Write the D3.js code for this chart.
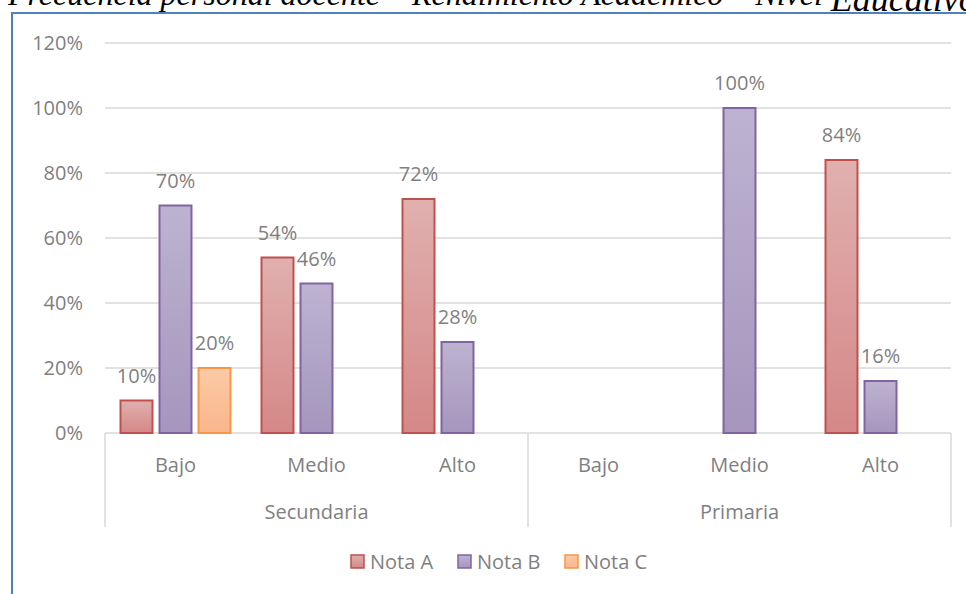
<!DOCTYPE html>
<html>
<head>
<meta charset="utf-8">
<script src="https://cdn.jsdelivr.net/npm/d3@7"></script>
<style>
  html, body { margin: 0; padding: 0; background: #fff; }
  svg { display: block; }
  text { font-family: "Open Sans", "Noto Sans", sans-serif; }
</style>
</head>
<body>
<svg id="chart" width="966" height="594"></svg>
<script>
// data
const groups = ["Secundaria", "Primaria"];
const levels = ["Bajo", "Medio", "Alto"];
const series = ["Nota A", "Nota B", "Nota C"];
// values per series, ordered Secundaria Bajo/Medio/Alto then Primaria Bajo/Medio/Alto (null = no bar)
const notaA = [0.10, 0.54, 0.72, null, null, 0.84];
const notaB = [0.70, 0.46, 0.28, null, 1.00, 0.16];
const notaC = [0.20, null, null, null, null, null];
const yTicks = [0, 0.2, 0.4, 0.6, 0.8, 1.0, 1.2];

const seriesValues = [notaA, notaB, notaC];
const colors = [
  { stroke: "#c0504d", top: "#e0b0af", bottom: "#d48887" },
  { stroke: "#8064a2", top: "#bdb3d0", bottom: "#a695bd" },
  { stroke: "#f79646", top: "#fccaa6", bottom: "#f9b68b" }
];
const fontSize = "20px";

const svg = d3.select("#chart");
const defs = svg.append("defs");
colors.forEach((c, i) => {
  const g = defs.append("linearGradient")
    .attr("id", "grad" + i).attr("x1", 0).attr("y1", 0).attr("x2", 0).attr("y2", 1);
  g.append("stop").attr("offset", "0%").attr("stop-color", c.top);
  g.append("stop").attr("offset", "100%").attr("stop-color", c.bottom);
});

// title (only its lower edge shows above the frame, as in the picture)
svg.append("text")
  .attr("x", 8).attr("y", 5)
  .style("font-family", "'Liberation Serif', 'DejaVu Serif', serif")
  .style("font-style", "italic")
  .style("font-size", "32px")
  .attr("fill", "#000")
  .text("Frecuencia personal docente * Rendimiento Académico * Nivel ")
  .append("tspan")
  .style("font-size", "36px")
  .attr("dy", 6)
  .text("Educativo");

// frame
svg.append("rect")
  .attr("x", 12).attr("y", 13)
  .attr("width", 1000).attr("height", 700)
  .attr("fill", "none")
  .attr("stroke", "#4f81bd")
  .attr("stroke-width", 2);

const plotLeft = 105, plotRight = 951, plotTop = 43, plotBottom = 433;

const y = d3.scaleLinear().domain([0, 1.2]).range([plotBottom, plotTop]);

const cats = [];
groups.forEach(g => levels.forEach(l => cats.push(g + "|" + l)));
const x0 = d3.scaleBand().domain(cats).range([plotLeft, plotRight]);
const x1 = d3.scaleBand().domain(series).range([15.5, x0.bandwidth() - 15.5]).paddingInner(0.18);

// gridlines
svg.append("g")
  .selectAll("line")
  .data(yTicks.slice(1))
  .join("line")
  .attr("x1", plotLeft).attr("x2", plotRight)
  .attr("y1", d => y(d)).attr("y2", d => y(d))
  .attr("stroke", "#d9d9d9").attr("stroke-width", 1.5);

// y axis
const yAxis = svg.append("g")
  .attr("transform", `translate(${plotLeft},0)`)
  .call(d3.axisLeft(y).tickValues(yTicks).tickFormat(d3.format(".0%")).tickSize(0).tickPadding(22));
yAxis.select(".domain").remove();
yAxis.selectAll("text")
  .attr("fill", "#7f7f7f")
  .style("font-size", fontSize)
  .style("font-family", "'Open Sans', 'Noto Sans', sans-serif");

// category axis box lines
const axisG = svg.append("g");
axisG.append("line")
  .attr("x1", plotLeft).attr("x2", plotRight).attr("y1", plotBottom).attr("y2", plotBottom)
  .attr("stroke", "#d9d9d9").attr("stroke-width", 1.5);
const dividers = [cats[0], cats[3]].map(c => x0(c)).concat([plotRight]);
axisG.selectAll("line.div")
  .data(dividers)
  .join("line")
  .attr("class", "div")
  .attr("x1", d => d).attr("x2", d => d)
  .attr("y1", plotBottom).attr("y2", 527)
  .attr("stroke", "#d9d9d9").attr("stroke-width", 1.5);

axisG.selectAll("text.lvl")
  .data(cats)
  .join("text")
  .attr("class", "lvl")
  .attr("x", d => x0(d) + x0.bandwidth() / 2)
  .attr("y", 472)
  .attr("text-anchor", "middle")
  .attr("fill", "#7f7f7f")
  .style("font-size", fontSize)
  .text(d => d.split("|")[1]);

axisG.selectAll("text.grp")
  .data(groups)
  .join("text")
  .attr("class", "grp")
  .attr("x", g => x0(g + "|" + levels[1]) + x0.bandwidth() / 2)
  .attr("y", 519)
  .attr("text-anchor", "middle")
  .attr("fill", "#7f7f7f")
  .style("font-size", fontSize)
  .text(g => g);

// bars
const barData = [];
seriesValues.forEach((vals, si) => {
  vals.forEach((v, ci) => {
    if (v !== null) barData.push({ cat: cats[ci], s: series[si], si: si, v: v });
  });
});

const barsG = svg.append("g");
barsG.selectAll("rect")
  .data(barData)
  .join("rect")
  .attr("x", d => x0(d.cat) + x1(d.s))
  .attr("y", d => y(d.v))
  .attr("width", x1.bandwidth())
  .attr("height", d => plotBottom - y(d.v))
  .attr("fill", d => `url(#grad${d.si})`)
  .attr("stroke", d => colors[d.si].stroke)
  .attr("stroke-width", 2);

barsG.selectAll("text")
  .data(barData)
  .join("text")
  .attr("x", d => x0(d.cat) + x1(d.s) + x1.bandwidth() / 2)
  .attr("y", d => y(d.v) - 18)
  .attr("text-anchor", "middle")
  .attr("fill", "#7f7f7f")
  .style("font-size", fontSize)
  .text(d => d3.format(".0%")(d.v));

// legend
const legendX = [351, 458, 565];
const legend = svg.append("g");
const item = legend.selectAll("g")
  .data(series)
  .join("g")
  .attr("transform", (d, i) => `translate(${legendX[i]},555)`);
item.append("rect")
  .attr("width", 13).attr("height", 13)
  .attr("fill", (d, i) => `url(#grad${i})`)
  .attr("stroke", (d, i) => colors[i].stroke)
  .attr("stroke-width", 1.5);
item.append("text")
  .attr("x", 19).attr("y", 14)
  .attr("fill", "#7f7f7f")
  .style("font-size", fontSize)
  .text(d => d);
</script>
</body>
</html>
